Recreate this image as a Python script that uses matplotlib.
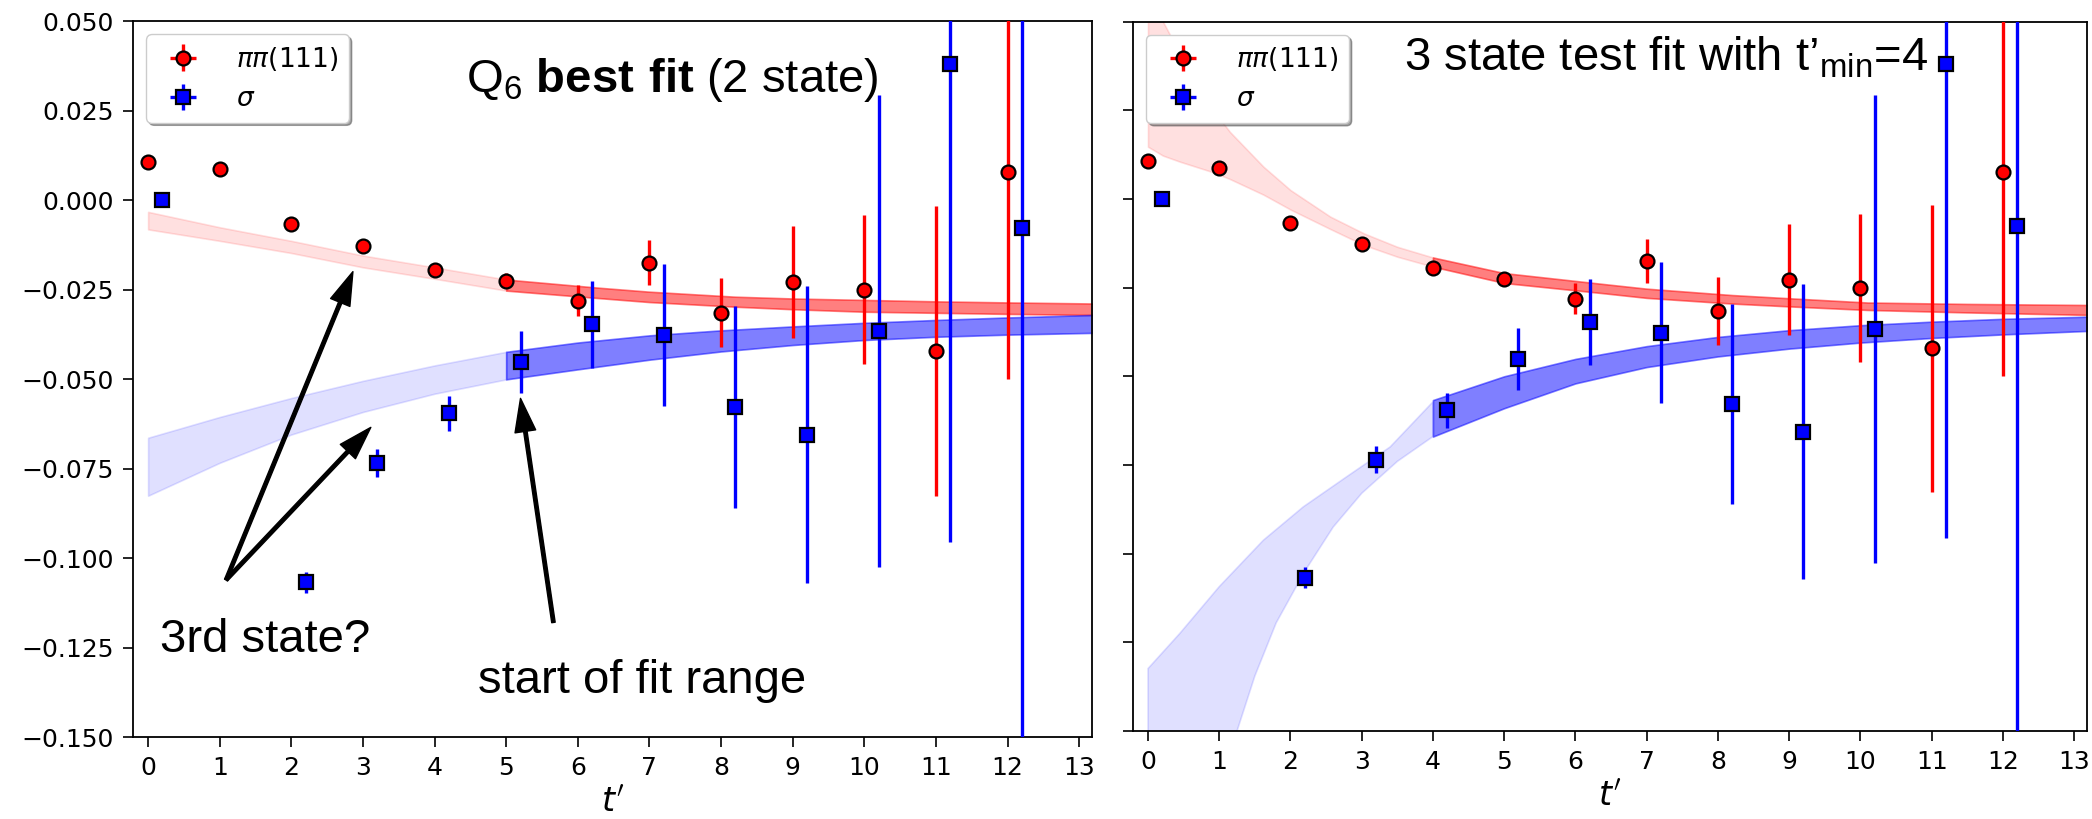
import numpy as np
import matplotlib.pyplot as plt

plt.rcParams['mathtext.rm'] = 'Liberation Sans'
plt.rcParams['mathtext.bf'] = 'Liberation Sans:bold'

# Data points (same in both panels).
t_pipi = np.arange(13)
pipi = [0.0107, 0.0086, -0.0068, -0.0128, -0.0196, -0.0225, -0.0281,
        -0.0175, -0.0315, -0.0228, -0.0251, -0.0421, 0.0077]
pipi_err = [0.0008, 0.0008, 0.0010, 0.0012, 0.0015, 0.0020, 0.0044,
            0.0062, 0.0096, 0.0156, 0.0208, 0.0405, 0.0576]

t_sigma = t_pipi + 0.2
sigma = [0.0000, np.nan, -0.1068, -0.0735, -0.0596, -0.0452, -0.0347,
         -0.0377, -0.0577, -0.0656, -0.0366, 0.0380, -0.0077]
sigma_err = [0.0005, np.nan, 0.0030, 0.0039, 0.0050, 0.0087, 0.0121,
             0.0198, 0.0282, 0.0415, 0.0660, 0.1335, 0.2500]

# Fit bands, left panel (2 state fit, fit range starts at t'=5).
L_pipi_t_out = [0, 1, 2, 3, 4, 5]
L_pipi_hi_out = [-0.0033, -0.0076, -0.0114, -0.0155, -0.0188, -0.0222]
L_pipi_lo_out = [-0.0082, -0.0114, -0.0148, -0.0188, -0.0220, -0.0253]
L_pipi_t_in = [5, 6.3, 7, 8.2, 9, 10, 11, 12, 13.2]
L_pipi_hi_in = [-0.0222, -0.0245, -0.0256, -0.0270, -0.0275, -0.0279, -0.0283, -0.0286, -0.0289]
L_pipi_lo_in = [-0.0253, -0.0274, -0.0285, -0.0298, -0.0305, -0.0312, -0.0315, -0.0318, -0.0321]

L_sig_t_out = [0, 1, 2, 3, 4, 5]
L_sig_hi_out = [-0.0664, -0.0606, -0.0553, -0.0505, -0.0462, -0.0424]
L_sig_lo_out = [-0.0826, -0.0734, -0.0655, -0.0592, -0.0541, -0.0501]
L_sig_t_in = [5, 6, 7, 8, 9, 10, 11, 12, 13.2]
L_sig_hi_in = [-0.0424, -0.0398, -0.0378, -0.0364, -0.0353, -0.0343, -0.0335, -0.0328, -0.0321]
L_sig_lo_in = [-0.0501, -0.0473, -0.0446, -0.0423, -0.0405, -0.0391, -0.0382, -0.0376, -0.0371]

# Fit bands, right panel (3 state fit, t'_min = 4).
R_pipi_t_out = [0, 0.21, 0.447, 0.681, 0.916, 1.15, 1.62, 2.0, 2.56, 3.03, 3.5, 4]
R_pipi_hi_out = [0.062, 0.050, 0.0410, 0.0321, 0.0250, 0.0189, 0.0091, 0.0025,
                 -0.0050, -0.0097, -0.0135, -0.0165]
R_pipi_lo_out = [0.0147, 0.0122, 0.0105, 0.0090, 0.0075, 0.0056, 0.0012, -0.0030,
                 -0.0085, -0.0130, -0.0163, -0.0191]
R_pipi_t_in = [4, 5, 6.4, 7, 8.2, 9, 10.1, 11.5, 13.2]
R_pipi_hi_in = [-0.0165, -0.0209, -0.0240, -0.0253, -0.0271, -0.0280, -0.0292, -0.0296, -0.0299]
R_pipi_lo_in = [-0.0191, -0.0237, -0.0266, -0.0279, -0.0295, -0.0303, -0.0313, -0.0320, -0.0327]

R_sig_t_hi_out = [0, 0.446, 1.0, 1.62, 2.18, 2.79, 3.40, 4]
R_sig_hi_out = [-0.1324, -0.1225, -0.1093, -0.0962, -0.0868, -0.0783, -0.0699, -0.0572]
R_sig_t_lo_out = [0, 0.5, 1.0, 1.25, 1.5, 1.8, 2.2, 2.6, 3.0, 3.5, 4]
R_sig_lo_out = [-0.300, -0.220, -0.172, -0.150, -0.1345, -0.1195, -0.1050, -0.0925,
                -0.0830, -0.0740, -0.0670]
R_sig_t_in = [4, 5, 6, 7, 8, 9, 10, 11, 12, 13.2]
R_sig_hi_in = [-0.0567, -0.0500, -0.0451, -0.0415, -0.0389, -0.0370, -0.0356, -0.0346, -0.0338, -0.0332]
R_sig_lo_in = [-0.0670, -0.0590, -0.0520, -0.0474, -0.0444, -0.0422, -0.0405, -0.0392, -0.0382, -0.0372]

yticks = [-0.150, -0.125, -0.100, -0.075, -0.050, -0.025, 0.000, 0.025, 0.050]

fig = plt.figure(figsize=(20.92, 8.19), dpi=100)
axL = fig.add_axes([0.0636, 0.1001, 0.4584, 0.8742])
axR = fig.add_axes([0.5416, 0.1074, 0.4560, 0.8663])

# light = outside the fit range, dark = inside
for ax, bl in ((axL, [(L_pipi_t_out, L_pipi_lo_out, L_pipi_hi_out, 'red', 0.12),
                      (L_pipi_t_in, L_pipi_lo_in, L_pipi_hi_in, 'red', 0.5),
                      (L_sig_t_out, L_sig_lo_out, L_sig_hi_out, 'blue', 0.12),
                      (L_sig_t_in, L_sig_lo_in, L_sig_hi_in, 'blue', 0.5)]),
               (axR, [(R_pipi_t_out, R_pipi_lo_out, R_pipi_hi_out, 'red', 0.12),
                      (R_pipi_t_in, R_pipi_lo_in, R_pipi_hi_in, 'red', 0.5),
                      (R_sig_t_in, R_sig_lo_in, R_sig_hi_in, 'blue', 0.5)])):
    for t, lo, hi, c, a in bl:
        ax.fill_between(t, lo, hi, color=c, alpha=a, lw=1.2, zorder=1)

# right panel light sigma band: upper and lower edges read at different t'
poly_t = R_sig_t_hi_out + R_sig_t_lo_out[::-1]
poly_v = R_sig_hi_out + R_sig_lo_out[::-1]
axR.fill(poly_t, poly_v, color='blue', alpha=0.12, lw=1.2, zorder=1)

for ax in (axL, axR):
    ax.errorbar(t_pipi, pipi, yerr=pipi_err, xerr=0, fmt='o', color='red',
                ms=10, mec='black', mew=1.6, elinewidth=2.4, capsize=0,
                label=r'$\pi\pi(111)$', zorder=3)
    ax.errorbar(t_sigma, sigma, yerr=sigma_err, xerr=0, fmt='s', color='blue',
                ms=10, mec='black', mew=1.6, elinewidth=2.4, capsize=0,
                label=r'$\sigma$', zorder=3)
    ax.set_xlim(-0.21, 13.18)
    ax.set_ylim(-0.15, 0.05)
    ax.set_xticks(range(14))
    ax.set_yticks(yticks)
    ax.tick_params(labelsize=18, length=7, width=1.2, pad=7)
    ax.set_xlabel(r"$t'$", fontsize=24, labelpad=4)
    for s in ax.spines.values():
        s.set_linewidth(1.3)
    ax.legend(loc='upper left', shadow=True, fontsize=19,
              borderaxespad=0.5, handletextpad=1.0)

axL.set_yticklabels([('%.3f' % v).replace('-', '\u2212') for v in yticks])
axR.set_yticklabels([])

axL.text(0.5626, 0.9008, r'Q$_6$ $\mathbf{best\ fit}$ (2 state)', transform=axL.transAxes,
         ha='center', va='baseline', fontsize=34, family='Liberation Sans',
         math_fontfamily='custom')
axR.text(0.284, 0.9316, r"3 state test fit with t’$_{\rm min}$=4", transform=axR.transAxes,
         ha='left', va='baseline', fontsize=34, family='Liberation Sans',
         math_fontfamily='custom')

arrow = dict(facecolor='black', edgecolor='black', width=2.5, headwidth=15, headlength=24)
axL.annotate('', xy=(2.86, -0.0200), xytext=(1.09, -0.1061), arrowprops=arrow)
axL.annotate('', xy=(3.11, -0.0635), xytext=(1.09, -0.1061), arrowprops=arrow)
axL.annotate('', xy=(5.20, -0.0554), xytext=(5.66, -0.1180), arrowprops=arrow)
axL.text(0.17, -0.1262, '3rd state?', fontsize=34, family='Liberation Sans', va='baseline')
axL.text(4.60, -0.1378, 'start of fit range', fontsize=34, family='Liberation Sans', va='baseline')

fig.savefig('out.png', dpi=100)
